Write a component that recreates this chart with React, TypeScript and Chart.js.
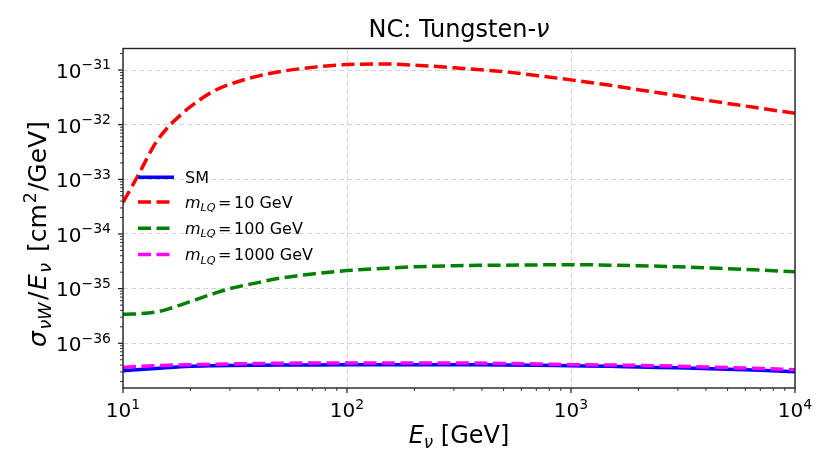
import { useEffect, useRef } from 'react';
import { Chart, registerables } from 'chart.js';

Chart.register(...registerables);

// neutrino energy grid (GeV)
const energies = [10, 11, 12, 13, 14, 16, 18, 20, 25, 30, 40, 50, 70, 100, 150, 200, 300, 500, 700, 1000, 1500, 2000, 3000, 5000, 7000, 10000];

// sigma / E  [cm^2/GeV]
const smValues = [
  3.16e-37, 3.24e-37, 3.31e-37, 3.39e-37, 3.47e-37, 3.59e-37, 3.72e-37, 3.8e-37, 3.89e-37, 3.94e-37, 3.98e-37, 4.0e-37, 4.02e-37,
  4.03e-37, 4.03e-37, 4.03e-37, 4.03e-37, 4.02e-37, 3.98e-37, 3.89e-37, 3.8e-37, 3.67e-37, 3.55e-37, 3.35e-37, 3.2e-37, 3.02e-37,
];
const lq10Values = [
  3.8e-34, 7.59e-34, 1.45e-33, 2.75e-33, 4.68e-33, 9.33e-33, 1.48e-32, 2.14e-32, 3.98e-32, 5.5e-32, 7.76e-32, 9.33e-32, 1.12e-31,
  1.26e-31, 1.29e-31, 1.23e-31, 1.1e-31, 9.33e-32, 7.94e-32, 6.61e-32, 5.25e-32, 4.37e-32, 3.39e-32, 2.45e-32, 2.0e-32, 1.62e-32,
];
const lq100Values = [
  3.39e-36, 3.43e-36, 3.49e-36, 3.59e-36, 3.72e-36, 4.27e-36, 5.01e-36, 5.82e-36, 7.94e-36, 1.0e-35, 1.29e-35, 1.55e-35, 1.86e-35,
  2.14e-35, 2.37e-35, 2.51e-35, 2.63e-35, 2.69e-35, 2.72e-35, 2.75e-35, 2.69e-35, 2.63e-35, 2.51e-35, 2.32e-35, 2.19e-35, 2.04e-35,
];
const lq1000Values = [
  3.63e-37, 3.72e-37, 3.8e-37, 3.85e-37, 3.89e-37, 3.98e-37, 4.01e-37, 4.05e-37, 4.12e-37, 4.19e-37, 4.27e-37, 4.32e-37, 4.35e-37,
  4.37e-37, 4.37e-37, 4.37e-37, 4.37e-37, 4.29e-37, 4.2e-37, 4.07e-37, 4.0e-37, 3.94e-37, 3.8e-37, 3.59e-37, 3.47e-37, 3.27e-37,
];

const xMajorExponents = [1, 2, 3, 4];
const yMajorExponents = [-36, -35, -34, -33, -32, -31];
const xRange = [10, 1e4];
const yRange = [1.52e-37, 2.48e-31];

const FONT = "'DejaVu Sans', sans-serif";
const GRID = '#d4d4d4';

type Seg = { t: string; it?: boolean; s?: 'sub' | 'sup'; pad?: number };

const titleSegs: Seg[] = [{ t: 'NC: Tungsten-' }, { t: 'ν', it: true }];
const xLabelSegs: Seg[] = [{ t: 'E', it: true }, { t: 'ν', it: true, s: 'sub' }, { t: ' [GeV]' }];
const yLabelSegs: Seg[] = [
  { t: 'σ', it: true },
  { t: 'νW', it: true, s: 'sub', pad: 1.5 },
  { t: '/', pad: 2.5 },
  { t: 'E', it: true, pad: 1.5 },
  { t: 'ν', it: true, s: 'sub', pad: 1.5 },
  { t: ' [cm', pad: 3 },
  { t: '2', s: 'sup', pad: 1 },
  { t: '/GeV]', pad: 1 },
];
const lqLabel = (m: string): Seg[] => [
  { t: 'm', it: true },
  { t: 'LQ', it: true, s: 'sub' },
  { t: '=', pad: 2.5 },
  { t: `${m} GeV`, pad: 2.5 },
];

function minorTicks(exps: number[], lo: number, hi: number): number[] {
  const out: number[] = [];
  for (let e = exps[0] - 1; e <= exps[exps.length - 1]; e++) {
    for (let k = 1; k <= 9; k++) {
      const v = k * Math.pow(10, e);
      if (v >= lo * 0.9999 && v <= hi * 1.0001) out.push(v);
    }
  }
  return out;
}

const isMajor = (v?: number) => v !== undefined && Math.abs(Math.log10(v) - Math.round(Math.log10(v))) < 1e-6;

function segFont(seg: Seg, size: number) {
  const sz = seg.s ? size * 0.7 : size;
  return `${seg.it ? 'italic ' : ''}${sz}px ${FONT}`;
}

function richWidth(ctx: CanvasRenderingContext2D, segs: Seg[], size: number) {
  let w = 0;
  for (const s of segs) {
    ctx.font = segFont(s, size);
    w += (s.pad ?? 0) + ctx.measureText(s.t).width;
  }
  return w;
}

function drawRich(ctx: CanvasRenderingContext2D, segs: Seg[], x: number, y: number, size: number, align: 'left' | 'center' | 'right') {
  const w = richWidth(ctx, segs, size);
  let cx = align === 'center' ? x - w / 2 : align === 'right' ? x - w : x;
  ctx.textAlign = 'left';
  ctx.textBaseline = 'alphabetic';
  for (const s of segs) {
    ctx.font = segFont(s, size);
    cx += s.pad ?? 0;
    const dy = s.s === 'sub' ? size * 0.2 : s.s === 'sup' ? -size * 0.42 : 0;
    ctx.fillText(s.t, cx, y + dy);
    cx += ctx.measureText(s.t).width;
  }
}

const supMinus = (e: number) => (e < 0 ? '\u2212' + Math.abs(e) : String(e));

export default function App() {
  const canvasRef = useRef<HTMLCanvasElement>(null);

  useEffect(() => {
    if (!canvasRef.current) return;

    const series = [
      { label: [{ t: 'SM' }] as Seg[], values: smValues, color: '#0000ff', dash: [] as number[], order: 4 },
      { label: lqLabel('10'), values: lq10Values, color: '#ff0000', dash: [13, 5.5], order: 3 },
      { label: lqLabel('100'), values: lq100Values, color: '#008000', dash: [13, 5.5], order: 2 },
      { label: lqLabel('1000'), values: lq1000Values, color: '#ff00ff', dash: [13, 5.5], order: 1 },
    ];

    const xTicks = minorTicks(xMajorExponents, xRange[0], xRange[1]);
    const yTicks = minorTicks(yMajorExponents, yRange[0], yRange[1]);

    const decorations = {
      id: 'decorations',
      afterDraw(chart: Chart) {
        const { ctx, chartArea: a } = chart;
        const xs = chart.scales.x;
        const ys = chart.scales.y;
        ctx.save();
        ctx.fillStyle = '#000';
        ctx.strokeStyle = '#000';

        // tick marks
        for (const v of xTicks) {
          const px = xs.getPixelForValue(v);
          const major = isMajor(v);
          ctx.lineWidth = major ? 1.1 : 0.8;
          ctx.beginPath();
          ctx.moveTo(px, a.bottom);
          ctx.lineTo(px, a.bottom + (major ? 5 : 3));
          ctx.stroke();
        }
        for (const v of yTicks) {
          const py = ys.getPixelForValue(v);
          const major = isMajor(v);
          ctx.lineWidth = major ? 1.1 : 0.8;
          ctx.beginPath();
          ctx.moveTo(a.left, py);
          ctx.lineTo(a.left - (major ? 5 : 3), py);
          ctx.stroke();
        }

        // tick labels
        for (const e of xMajorExponents) {
          const px = xs.getPixelForValue(Math.pow(10, e));
          drawRich(ctx, [{ t: '10' }, { t: supMinus(e), s: 'sup' }], px, a.bottom + 29, 20, 'center');
        }
        for (const e of yMajorExponents) {
          const py = ys.getPixelForValue(Math.pow(10, e));
          drawRich(ctx, [{ t: '10' }, { t: supMinus(e), s: 'sup' }], a.left - 12, py + 7.8, 20, 'right');
        }

        // frame
        ctx.lineWidth = 1.4;
        ctx.strokeStyle = '#222';
        ctx.strokeRect(a.left, a.top, a.right - a.left, a.bottom - a.top);

        // title and axis labels
        ctx.fillStyle = '#000';
        const cxm = (a.left + a.right) / 2;
        drawRich(ctx, titleSegs, cxm, 37.3, 24, 'center');
        drawRich(ctx, xLabelSegs, cxm, 443, 24, 'center');
        ctx.save();
        ctx.translate(46, 234);
        ctx.rotate(-Math.PI / 2);
        drawRich(ctx, yLabelSegs, 0, 0, 25, 'center');
        ctx.restore();

        // legend
        const rowY = [177.2, 202, 228.2, 254.6];
        series.forEach((s, i) => {
          ctx.save();
          ctx.strokeStyle = s.color;
          ctx.lineWidth = 3.5;
          ctx.setLineDash(s.dash);
          ctx.beginPath();
          ctx.moveTo(138, rowY[i]);
          ctx.lineTo(174, rowY[i]);
          ctx.stroke();
          ctx.restore();
          drawRich(ctx, s.label, 185, rowY[i] + 5.8, 16, 'left');
        });
        ctx.restore();
      },
    };

    const chart = new Chart(canvasRef.current, {
      type: 'line',
      data: {
        datasets: series.map((s) => ({
          data: energies.map((e, i) => ({ x: e, y: s.values[i] })),
          borderColor: s.color,
          borderWidth: 3.5,
          borderDash: s.dash,
          pointRadius: 0,
          fill: false,
          cubicInterpolationMode: 'monotone' as const,
          order: s.order,
        })),
      },
      options: {
        animation: false,
        responsive: false,
        events: [],
        layout: { padding: { top: 48.5, right: 35, left: 0, bottom: 0 } },
        plugins: { legend: { display: false }, tooltip: { enabled: false }, title: { display: false } },
        scales: {
          x: {
            type: 'logarithmic',
            min: xRange[0],
            max: xRange[1],
            afterBuildTicks: (scale) => {
              scale.ticks = xTicks.map((v) => ({ value: v }));
            },
            afterFit: (scale) => {
              scale.height = 87;
            },
            ticks: { display: false },
            grid: {
              drawTicks: false,
              lineWidth: 1,
              color: (c) => (isMajor(c.tick?.value) ? GRID : 'rgba(0,0,0,0)'),
            },
            border: { display: false, dash: [5, 3] },
          },
          y: {
            type: 'logarithmic',
            min: yRange[0],
            max: yRange[1],
            afterBuildTicks: (scale) => {
              scale.ticks = yTicks.map((v) => ({ value: v }));
            },
            afterFit: (scale) => {
              scale.width = 123;
            },
            ticks: { display: false },
            grid: {
              drawTicks: false,
              lineWidth: 1,
              color: (c) => (isMajor(c.tick?.value) ? GRID : 'rgba(0,0,0,0)'),
            },
            border: { display: false, dash: [5, 3] },
          },
        },
      },
      plugins: [decorations],
    });

    return () => {
      chart.destroy();
    };
  }, []);

  return (
    <div style={{ position: 'fixed', left: 0, top: 0, width: 830, height: 475, background: '#fff' }}>
      <canvas ref={canvasRef} width={830} height={475} style={{ display: 'block' }} />
    </div>
  );
}
